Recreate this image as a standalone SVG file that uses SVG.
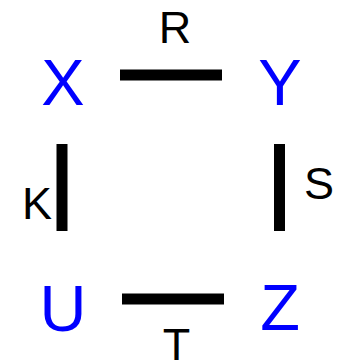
<svg xmlns="http://www.w3.org/2000/svg" width="345" height="360" viewBox="0 0 345 360">
<style>
.n{font-family:"Liberation Sans",Arial,sans-serif;font-size:65px;fill:#0000ff;text-anchor:middle}
.l{font-family:"Liberation Sans",Arial,sans-serif;font-size:45px;fill:#000;text-anchor:middle}
.e{stroke:#000;stroke-width:11}
</style>
<rect width="345" height="360" fill="#fff"/>
<g id="X"><text class="n" x="63" y="105">X</text></g>
<g id="Y"><text class="n" x="280" y="105">Y</text></g>
<g id="U"><text class="n" x="63" y="331">U</text></g>
<g id="Z"><text class="n" x="280" y="330">Z</text></g>
<g id="connectors">
<line class="e" x1="120" y1="75" x2="222" y2="75"/>
<line class="e" x1="62" y1="144" x2="62" y2="231"/>
<line class="e" x1="279.5" y1="144" x2="279.5" y2="231"/>
<line class="e" x1="122" y1="299" x2="224" y2="299"/>
<text class="l" x="175" y="43">R</text>
<text class="l" x="319" y="199">S</text>
<text class="l" x="37" y="219">K</text>
<text class="l" x="176.5" y="360">T</text>
</g>
</svg>
